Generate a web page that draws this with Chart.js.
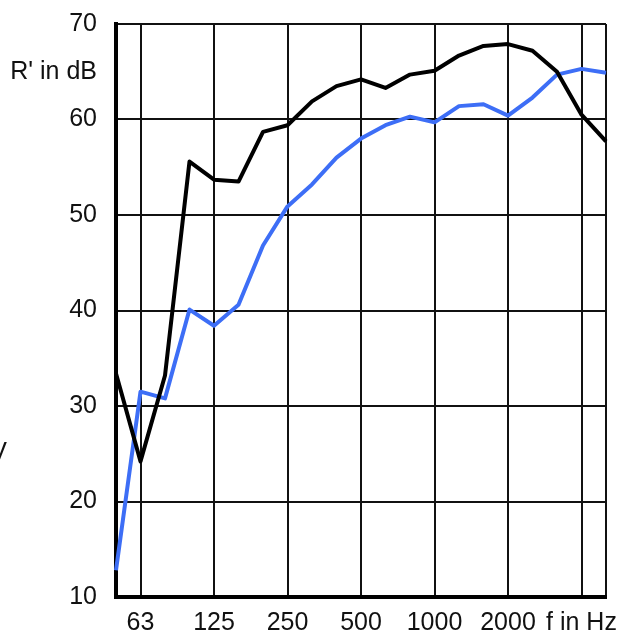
<!DOCTYPE html>
<html>
<head>
<meta charset="utf-8">
<script src="https://cdn.jsdelivr.net/npm/chart.js@4"></script>
<style>
    body { margin: 0; background: #fff; }
    #wrap { width: 634px; height: 632px; position: relative; }
</style>
</head>
<body>
<div id="wrap"><canvas id="chart"></canvas></div>
<script>
// third-octave bands, 50 Hz .. 5000 Hz
const bands = [50, 63, 80, 100, 125, 160, 200, 250, 315, 400, 500, 630, 800, 1000, 1250, 1600, 2000, 2500, 3150, 4000, 5000];
const octaveLabels = { 63: "63", 125: "125", 250: "250", 500: "500", 1000: "1000", 2000: "2000", 4000: "f in Hz" };
const gridBands = [50, 63, 125, 250, 500, 1000, 2000, 4000, 5000];

const blackCurve = [33.4, 24.2, 33.2, 55.6, 53.7, 53.5, 58.7, 59.4, 61.9, 63.5, 64.2, 63.3, 64.7, 65.1, 66.7, 67.7, 67.9, 67.2, 65.0, 60.5, 57.7];
const blueCurve = [12.8, 31.5, 30.8, 40.1, 38.4, 40.6, 46.8, 50.9, 53.2, 56.0, 58.0, 59.4, 60.3, 59.7, 61.4, 61.6, 60.4, 62.3, 64.7, 65.3, 64.9];

const yMin = 10;
const yMax = 70;
const yUnitLabel = "R' in dB";

const fontFamily = "'Liberation Sans', Arial, sans-serif";

// stray glyph clipped at the left edge of the original picture
const edgeText = {
    id: "edgeText",
    afterDraw(chart) {
        const ctx = chart.ctx;
        ctx.save();
        ctx.font = "25px " + fontFamily;
        ctx.fillStyle = "#111";
        ctx.textAlign = "right";
        ctx.textBaseline = "middle";
        ctx.fillText("V", 7, 453);
        ctx.restore();
    }
};

new Chart(document.getElementById("chart"), {
    type: "line",
    data: {
        labels: bands,
        datasets: [
            {
                data: blackCurve,
                borderColor: "#000",
                borderWidth: 4,
                pointRadius: 0,
                tension: 0,
                borderJoinStyle: "round"
            },
            {
                data: blueCurve,
                borderColor: "#3d6ef6",
                borderWidth: 4,
                pointRadius: 0,
                tension: 0,
                borderJoinStyle: "round"
            }
        ]
    },
    options: {
        responsive: true,
        maintainAspectRatio: false,
        animation: false,
        layout: { padding: { top: 24, right: 28, left: 0, bottom: 0 } },
        plugins: {
            legend: { display: false },
            tooltip: { enabled: false }
        },
        scales: {
            x: {
                type: "category",
                offset: false,
                border: { display: true, color: "#000", width: 4 },
                grid: {
                    drawTicks: false,
                    lineWidth: 2,
                    color: c => gridBands.includes(bands[c.index]) ? "#111" : "rgba(0,0,0,0)"
                },
                ticks: {
                    autoSkip: false,
                    maxRotation: 0,
                    padding: 11,
                    color: "#111",
                    font: { family: fontFamily, size: 25 },
                    callback: (v, i) => octaveLabels[bands[i]] || ""
                },
                afterFit: s => { s.height = 35; }
            },
            y: {
                min: yMin,
                max: yMax,
                border: { display: true, color: "#000", width: 4 },
                grid: {
                    drawTicks: false,
                    lineWidth: 2,
                    color: c => (c.tick && c.tick.value % 10 === 0) ? "#111" : "rgba(0,0,0,0)"
                },
                ticks: {
                    stepSize: 5,
                    padding: 19,
                    color: "#111",
                    font: { family: fontFamily, size: 25 },
                    callback: v => v % 10 === 0 ? v : (v === 65 ? yUnitLabel : "")
                },
                afterFit: s => {
                    s.width = 116;
                    s.paddingTop = 0;
                    s.paddingBottom = 0;
                }
            }
        }
    },
    plugins: [edgeText]
});
</script>
</body>
</html>
